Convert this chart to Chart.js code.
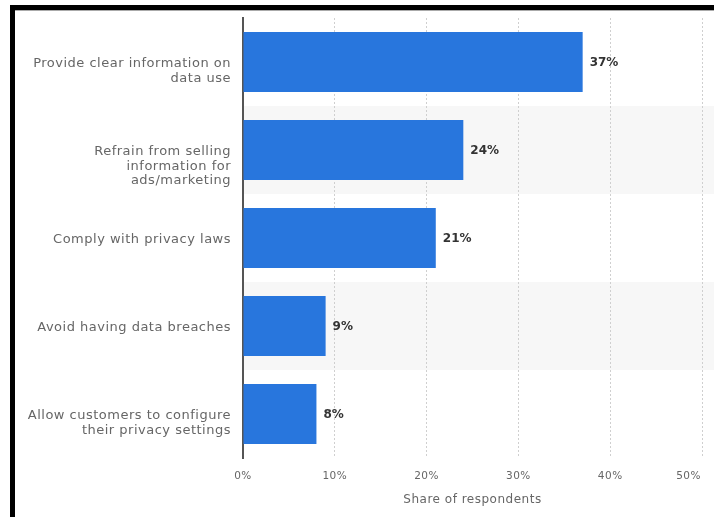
<!DOCTYPE html>
<html>
<head>
<meta charset="utf-8">
<script src="https://cdn.jsdelivr.net/npm/chart.js@4.4.0/dist/chart.umd.min.js"></script>
<style>
  html, body { margin: 0; padding: 0; background: #fff; overflow: hidden; }
  body { width: 714px; height: 517px; position: relative; }
  #cut { position: absolute; left: 17px; top: -14px; font: bold 16px "Liberation Serif", serif; color: #111; white-space: nowrap; }
  #frame { position: absolute; left: 10px; top: 5px; right: 0; bottom: 0; border-left: 5px solid #000; border-top: 5px solid #000; }
  #inner { position: absolute; left: 0; top: 0; right: 0; height: 1px; background: #aaa; }
  #wrap { position: absolute; left: 15px; top: 11px; width: 699px; height: 506px; }
</style>
</head>
<body>
<div id="cut">information.</div>
<div id="frame"><div id="inner"></div></div>
<div id="wrap"><canvas id="chart"></canvas></div>
<script>
// values
const categories = [
  ['Provide clear information on', 'data use'],
  ['Refrain from selling', 'information for', 'ads/marketing'],
  'Comply with privacy laws',
  'Avoid having data breaches',
  ['Allow customers to configure', 'their privacy settings']
];
const shares = [37, 24, 21, 9, 8];
const xTicks = [0, 10, 20, 30, 40, 50];

const barColor = '#2876dd';

// alternate grey row bands behind the bars
const bandPlugin = {
  id: 'bands',
  beforeDraw(chart) {
    const { ctx, chartArea, scales } = chart;
    const y = scales.y;
    const half = Math.abs(y.getPixelForValue(1) - y.getPixelForValue(0)) / 2;
    ctx.save();
    ctx.fillStyle = '#f7f7f7';
    categories.forEach((_, i) => {
      if (i % 2 === 1) {
        const c = y.getPixelForValue(i);
        ctx.fillRect(chartArea.left, c - half, chart.width - chartArea.left, half * 2);
      }
    });
    ctx.restore();
    // the axis text in the picture is a bit spaced out
    ctx.letterSpacing = '0.5px';
  }
};

// value labels at the end of each bar
const valuePlugin = {
  id: 'values',
  afterDatasetsDraw(chart) {
    const { ctx } = chart;
    const meta = chart.getDatasetMeta(0);
    ctx.save();
    ctx.letterSpacing = '0px';
    ctx.font = 'bold 12px "DejaVu Sans"';
    ctx.fillStyle = '#333';
    ctx.textBaseline = 'middle';
    ctx.textAlign = 'left';
    meta.data.forEach((bar, i) => {
      ctx.fillText(shares[i] + '%', bar.x + 7, bar.y + 1);
    });
    ctx.restore();
  }
};

// wrapped labels start at the row centre and run downwards
const hangLabel = (v, i) => {
  const l = categories[i];
  if (!Array.isArray(l)) return l;
  return Array(l.length - 1).fill('').concat(l);
};

// last tick label sits left of its gridline, like the original
const pctLabel = (v) => v === xTicks[xTicks.length - 1] ? v + '%       ' : v + '%';

new Chart(document.getElementById('chart'), {
  type: 'bar',
  data: {
    labels: categories,
    datasets: [{
      data: shares,
      backgroundColor: barColor,
      borderWidth: 0,
      barPercentage: 0.68,
      categoryPercentage: 1
    }]
  },
  options: {
    indexAxis: 'y',
    responsive: true,
    maintainAspectRatio: false,
    animation: false,
    layout: { padding: { top: 7, right: 12, left: 0, bottom: 0 } },
    plugins: {
      legend: { display: false },
      tooltip: { enabled: false }
    },
    scales: {
      x: {
        min: 0,
        max: 50,
        afterBuildTicks: (scale) => { scale.ticks = xTicks.map(v => ({ value: v })); },
        afterFit: (scale) => {
          scale.height = 59;
          scale.paddingLeft = 0;
          scale.paddingRight = 0;
        },
        ticks: {
          padding: 12,
          color: '#666',
          font: { family: 'DejaVu Sans', size: 10.5 },
          callback: pctLabel
        },
        grid: {
          color: '#cfcfcf',
          drawTicks: false,
          lineWidth: 1
        },
        border: { display: false, dash: [2, 2] },
        title: {
          display: true,
          text: 'Share of respondents',
          color: '#666',
          font: { family: 'DejaVu Sans', size: 12 },
          padding: { top: 0, bottom: 10 }
        }
      },
      y: {
        afterFit: (scale) => {
          scale.width = 228;
          scale.paddingTop = 0;
          scale.paddingBottom = 0;
        },
        ticks: {
          padding: 12,
          labelOffset: 2,
          color: '#666',
          font: { family: 'DejaVu Sans', size: 13, lineHeight: 1.1 },
          autoSkip: false,
          callback: hangLabel
        },
        grid: { display: false, drawTicks: false },
        border: { display: true, color: '#555', width: 2 }
      }
    }
  },
  plugins: [bandPlugin, valuePlugin]
});
</script>
</body>
</html>
